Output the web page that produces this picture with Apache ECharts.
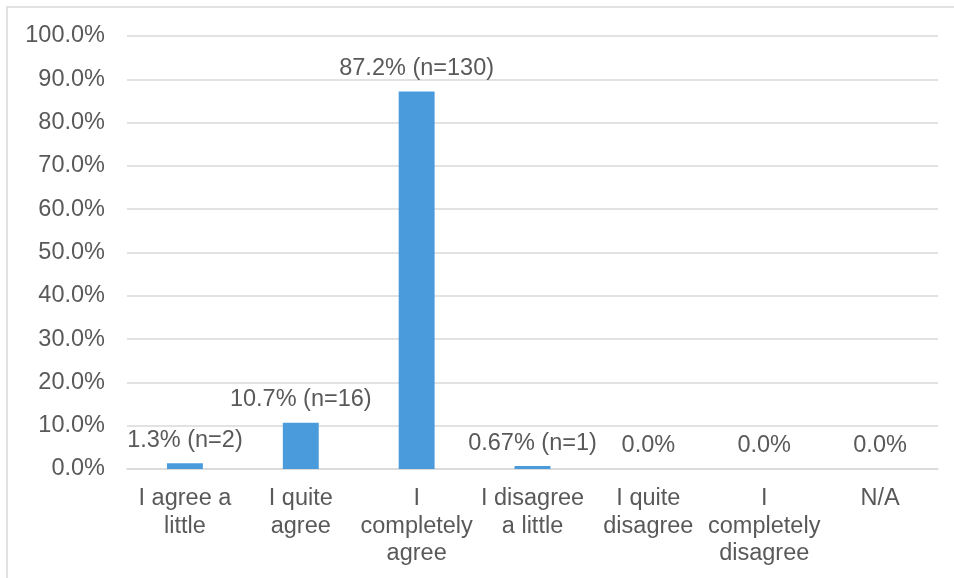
<!DOCTYPE html>
<html>
<head>
<meta charset="utf-8">
<style>
  html, body { margin: 0; padding: 0; background: #fff; overflow: hidden; }
  #chart { width: 954px; height: 578px; }
</style>
<script src="https://cdn.jsdelivr.net/npm/echarts@6/dist/echarts.min.js"></script>
</head>
<body>
<div id="chart"></div>
<script>
// Survey responses: share of respondents per answer (percent) and headcount
const categories = [
  'I agree a\nlittle',
  'I quite\nagree',
  'I\ncompletely\nagree',
  'I disagree\na little',
  'I quite\ndisagree',
  'I\ncompletely\ndisagree',
  'N/A'
];
const percentValues = [1.3, 10.7, 87.2, 0.67, 0, 0, 0];
const respondentCounts = [2, 16, 130, 1, null, null, null];
const yTicks = { min: 0, max: 100, interval: 10 };

const FONT = "'Liberation Sans', Arial, sans-serif";
const TEXT = '#595959';
const GRID = '#d9d9d9';
const FONT_SIZE = 23.5;

function pctText(v) {
  return (Number.isInteger(v) ? v.toFixed(1) : String(v)) + '%';
}

const chart = echarts.init(document.getElementById('chart'), null, { renderer: 'canvas' });

chart.setOption({
  animation: false,
  backgroundColor: '#ffffff',
  textStyle: { fontFamily: FONT },
  graphic: [{
    type: 'rect',
    silent: true,
    shape: { x: 7, y: 7, width: 1200, height: 1200 },
    style: { fill: 'none', stroke: GRID, lineWidth: 1.5 }
  }],
  grid: { left: 127, right: 16, top: 36, bottom: 109, containLabel: false },
  xAxis: {
    type: 'category',
    data: categories,
    axisTick: { show: false },
    axisLine: { lineStyle: { color: GRID, width: 1.5 } },
    axisLabel: {
      interval: 0,
      color: TEXT,
      fontSize: FONT_SIZE,
      lineHeight: 27.5,
      margin: 16,
      fontFamily: FONT
    }
  },
  yAxis: {
    type: 'value',
    min: yTicks.min,
    max: yTicks.max,
    interval: yTicks.interval,
    axisLine: { show: false },
    axisTick: { show: false },
    splitLine: { lineStyle: { color: GRID, width: 1.5 } },
    axisLabel: {
      color: TEXT,
      fontSize: FONT_SIZE,
      margin: 22,
      fontFamily: FONT,
      formatter: v => v.toFixed(1) + '%'
    }
  },
  series: [{
    type: 'bar',
    data: percentValues,
    barWidth: '31%',
    itemStyle: { color: '#4a9bdc' },
    label: {
      show: true,
      position: 'top',
      distance: 11,
      color: TEXT,
      fontSize: FONT_SIZE,
      fontFamily: FONT,
      formatter: p => {
        const n = respondentCounts[p.dataIndex];
        return pctText(p.value) + (n != null ? ' (n=' + n + ')' : '');
      }
    }
  }]
});
</script>
</body>
</html>
